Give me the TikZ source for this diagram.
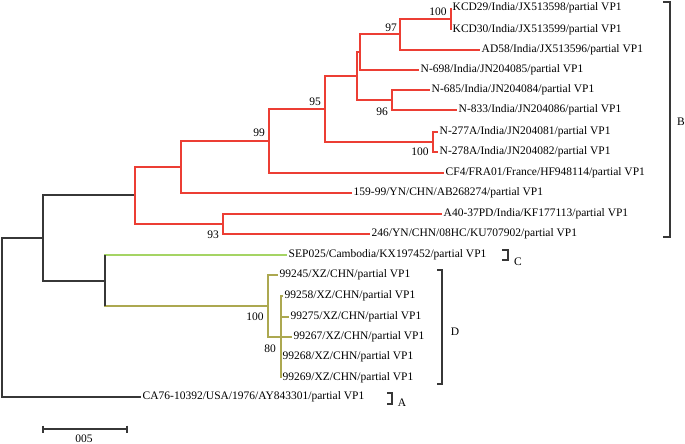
\documentclass[tikz,border=0pt]{standalone}
\usepackage{fontspec}
\setmainfont{Liberation Serif}
\usepackage{tikz}
\usetikzlibrary{calc}
\definecolor{stem}{RGB}{55,55,55}
\definecolor{cladeB}{RGB}{236,62,52}
\definecolor{cladeC}{RGB}{165,212,100}
\definecolor{cladeD}{RGB}{172,168,80}
\newcommand{\treefont}{\fontsize{11.5}{13}\selectfont}
\tikzset{
  branch/.style={
    line width = 1.1pt,
    color = stem
  },
  branchB/.style={
    line width = 1.25pt,
    color = cladeB
  },
  branchC/.style={
    line width = 1.4pt,
    color = cladeC
  },
  branchD/.style={
    line width = 1.3pt,
    color = cladeD
  },
  taxon/.style={
    anchor = west,
    inner sep = 1.5pt,
    font = \treefont
  },
  boot/.style={
    inner sep = 0pt,
    font = \treefont
  },
  bracket/.style={
    line width = 1.1pt,
    color = stem
  }
}

\begin{document}
\begin{tikzpicture}[x=1pt,y=-1pt]
  \useasboundingbox (0,0) rectangle (685,444);

  % taxa
  \node[taxon] (kcd29) at (451,8)   {KCD29/India/JX513598/partial VP1};
  \node[taxon] (kcd30) at (451,30)  {KCD30/India/JX513599/partial VP1};
  \node[taxon] (ad58)  at (480,50)  {AD58/India/JX513596/partial VP1};
  \node[taxon] (n698)  at (419,70)  {N-698/India/JN204085/partial VP1};
  \node[taxon] (n685)  at (430,90)  {N-685/India/JN204084/partial VP1};
  \node[taxon] (n833)  at (457,110) {N-833/India/JN204086/partial VP1};
  \node[taxon] (n277a) at (438,132) {N-277A/India/JN204081/partial VP1};
  \node[taxon] (n278a) at (438,152) {N-278A/India/JN204082/partial VP1};
  \node[taxon] (cf4)   at (444,173) {CF4/FRA01/France/HF948114/partial VP1};
  \node[taxon] (yn159) at (352,193) {159-99/YN/CHN/AB268274/partial VP1};
  \node[taxon] (a40)   at (442,214) {A40-37PD/India/KF177113/partial VP1};
  \node[taxon] (yn246) at (370,234) {246/YN/CHN/08HC/KU707902/partial VP1};
  \node[taxon] (sep25) at (287,255) {SEP025/Cambodia/KX197452/partial VP1};
  \node[taxon] (x245)  at (278,275) {99245/XZ/CHN/partial VP1};
  \node[taxon] (x258)  at (283,296) {99258/XZ/CHN/partial VP1};
  \node[taxon] (x275)  at (289,317) {99275/XZ/CHN/partial VP1};
  \node[taxon] (x267)  at (292,337) {99267/XZ/CHN/partial VP1};
  \node[taxon] (x268)  at (281,357) {99268/XZ/CHN/partial VP1};
  \node[taxon] (x269)  at (281,378) {99269/XZ/CHN/partial VP1};
  \node[taxon] (ca76)  at (141,397) {CA76-10392/USA/1976/AY843301/partial VP1};

  % internal nodes
  \coordinate (root)  at (2,318);
  \coordinate (nIn)   at (43,238);
  \coordinate (nB)    at (135,195);
  \coordinate (nB1)   at (181,167);
  \coordinate (nB99)  at (269,141);
  \coordinate (nB95)  at (325,109);
  \coordinate (nB2)   at (357,76);
  \coordinate (nB3)   at (360,52);
  \coordinate (nB97)  at (400,34);
  \coordinate (nB100) at (451,19);
  \coordinate (nB96)  at (392,100);
  \coordinate (nN100) at (433,142);
  \coordinate (nB93)  at (223,224);
  \coordinate (nCD)   at (105,281);
  \coordinate (nD100) at (268,306);
  \coordinate (nD80)  at (281,337);

  % stem
  \draw[branch] (root) |- (nIn);
  \draw[branch] (root) |- (ca76.west);
  \draw[branch] (nIn) |- (nB);
  \draw[branch] (nIn) |- (nCD);

  % clade B
  \draw[branchB] (nB) |- (nB1);
  \draw[branchB] (nB) |- (nB93);
  \draw[branchB] (nB1) |- (nB99);
  \draw[branchB] (nB1) |- (yn159.west);
  \draw[branchB] (nB99) |- (nB95);
  \draw[branchB] (nB99) |- (cf4.west);
  \draw[branchB] (nB95) |- (nB2);
  \draw[branchB] (nB95) |- (nN100);
  \draw[branchB] (nB2) |- (nB3);
  \draw[branchB] (nB2) |- (nB96);
  \draw[branchB] (nB3) |- (nB97);
  \draw[branchB] (nB3) |- (n698.west);
  \draw[branchB] (nB97) |- (nB100);
  \draw[branchB] (nB97) |- (ad58.west);
  \draw[branchB] (nB100) |- (kcd29.west);
  \draw[branchB] (nB100) |- (kcd30.west);
  \draw[branchB] (nB96) |- (n685.west);
  \draw[branchB] (nB96) |- (n833.west);
  \draw[branchB] (nN100) |- (n277a.west);
  \draw[branchB] (nN100) |- (n278a.west);
  \draw[branchB] (nB93) |- (a40.west);
  \draw[branchB] (nB93) |- (yn246.west);

  % clades C and D
  \draw[branchC] (nCD) |- (sep25.west);
  \draw[branchD] (nCD) |- (nD100);
  \draw[branch] (nCD |- sep25.west) -- (nCD |- nD100);
  \draw[branchD] (nD100) |- (x245.west);
  \draw[branchD] (nD100) |- (nD80);
  \draw[branchD] (nD80) |- (x258.west);
  \draw[branchD] (nD80) |- (x275.west);
  \draw[branchD] (nD80) |- (x267.west);
  \draw[branchD] (nD80) |- (x268.west);
  \draw[branchD] (nD80) |- (x269.west);

  % bootstrap values
  \node[boot] (bs1)  at (438,12)  {100};
  \node[boot] (bs2)  at (391,28)  {97};
  \node[boot] (bs3)  at (315,102) {95};
  \node[boot] (bs4)  at (259,133) {99};
  \node[boot] (bs5)  at (382,112) {96};
  \node[boot] (bs6)  at (420,152) {100};
  \node[boot] (bs7)  at (213,235) {93};
  \node[boot] (bs8)  at (255,317) {100};
  \node[boot] (bs9)  at (270,349) {80};

  % clade brackets
  \draw[bracket] (663,2) -- (670,2) -- (670,237) -- (663,237);
  \node[boot] (labB) at (681,122) {B};
  \draw[bracket] (502,250) -- (508,250) -- (508,260) -- (502,260);
  \node[boot] (labC) at (518,262) {C};
  \draw[bracket] (437,270) -- (442,270) -- (442,384) -- (437,384);
  \node[boot] (labD) at (455,332) {D};
  \draw[bracket] (387,393) -- (392,393) -- (392,404) -- (387,404);
  \node[boot] (labA) at (402,403) {A};

  % scale bar
  \coordinate (sbL) at (43,429);
  \coordinate (sbR) at (127,429);
  \draw[branch] (sbL) -- (sbR);
  \draw[branch] ($(sbL)+(0,-3.5)$) -- ($(sbL)+(0,3.5)$);
  \draw[branch] ($(sbR)+(0,-3.5)$) -- ($(sbR)+(0,3.5)$);
  \node[boot] (sbLab) at (84,438.5) {005};
\end{tikzpicture}
\end{document}
